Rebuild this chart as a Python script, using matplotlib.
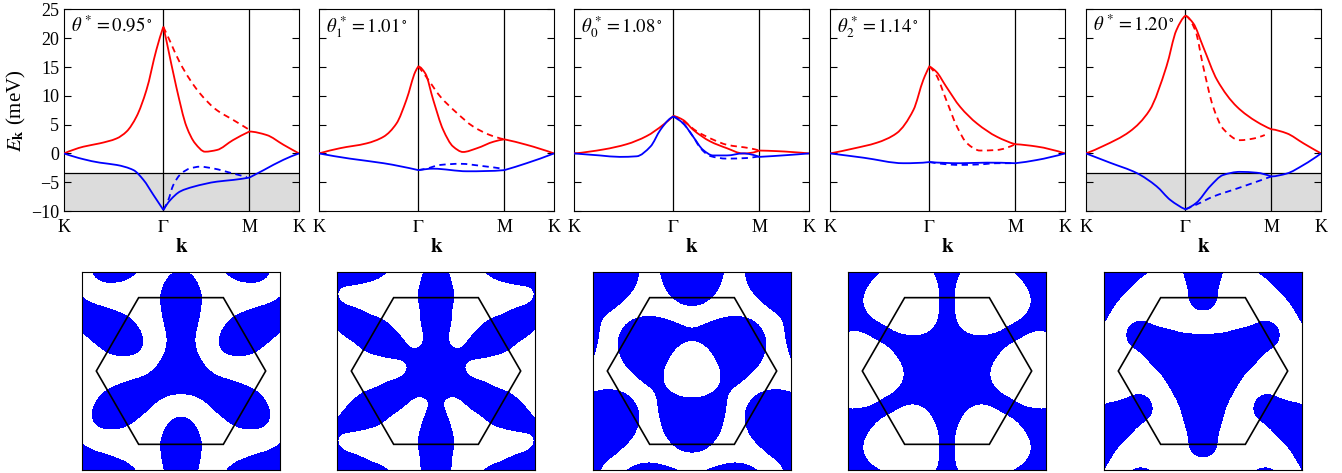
import numpy as np
import matplotlib
matplotlib.use('Agg')
import matplotlib.pyplot as plt
from matplotlib.patches import Polygon, PathPatch
from matplotlib.path import Path

plt.rcParams['font.family'] = ['Liberation Serif', 'DejaVu Serif']
plt.rcParams['mathtext.fontset'] = 'stix'

W, H = 1342, 473
# K - Gamma - M - K, path length in units of |K|
PATH = [0.0, 1.0, 1 + np.sqrt(3) / 2, 1.5 + np.sqrt(3) / 2]
A = 4 * np.pi / 3

# ---- bands: (path coordinate, energy in meV); "d" = dashed Gamma-M' branch ----
red1 = ([0, 0.195, 0.36, 0.53, 0.63, 0.73, 0.83, 0.93, 1.0, 1.03, 1.13, 1.235, 1.32, 1.42, 1.54, 1.70, 1.866, 2.04, 2.21, 2.366],
        [0, 1.17, 1.75, 2.6, 3.8, 6.4, 11.0, 18.0, 22.0, 19.7, 11.6, 4.6, 1.75, 0.3, 0.6, 2.3, 3.8, 3.2, 1.5, 0])
red1d = ([1.0, 1.07, 1.17, 1.37, 1.54, 1.705, 1.866], [22.0, 19.4, 15.65, 10.4, 7.5, 5.8, 4.1])
blue1 = ([0, 0.195, 0.36, 0.53, 0.70, 0.80, 0.90, 1.0, 1.07, 1.17, 1.30, 1.54, 1.705, 1.866, 2.01, 2.21, 2.366],
         [0, -1.0, -1.6, -2.0, -2.9, -4.6, -7.2, -9.8, -8.1, -6.6, -5.8, -4.9, -4.6, -4.2, -2.9, -1.1, 0])
blue1d = ([1.0, 1.05, 1.10, 1.18, 1.27, 1.37, 1.50, 1.705, 1.84], [-9.8, -8.1, -5.5, -3.5, -2.6, -2.3, -2.6, -3.5, -4.1])

red2 = ([0, 0.21, 0.48, 0.65, 0.78, 0.88, 0.97, 1.0, 1.07, 1.15, 1.25, 1.35, 1.45, 1.59, 1.76, 1.866, 2.09, 2.366],
        [0, 0.9, 1.75, 2.9, 5.2, 9.3, 14.2, 15.1, 13.9, 9.3, 4.1, 1.2, 0.25, 0.9, 2.05, 2.45, 1.5, 0])
red2d = ([1.0, 1.08, 1.22, 1.39, 1.55, 1.72, 1.866], [15.1, 13.3, 9.9, 7.0, 4.7, 3.2, 2.45])
blue2 = ([0, 0.31, 0.65, 1.0, 1.15, 1.49, 1.866, 2.09, 2.366], [0, -0.9, -1.7, -2.9, -2.65, -3.1, -2.9, -1.7, 0])
blue2d = ([1.0, 1.08, 1.22, 1.42, 1.65, 1.866], [-2.9, -2.65, -2.0, -1.8, -2.2, -2.7])

red3 = ([0, 0.30, 0.53, 0.73, 0.90, 1.0, 1.10, 1.20, 1.37, 1.54, 1.70, 1.866, 2.04, 2.366],
        [0, 0.7, 1.6, 3.0, 5.0, 6.5, 5.8, 4.1, 2.1, 0.9, 0.0, 0.5, 0.4, 0])
red3d = ([1.0, 1.10, 1.24, 1.40, 1.54, 1.77, 1.866], [6.5, 5.6, 3.8, 2.4, 1.5, 0.9, 0.5])
blue3 = ([0, 0.26, 0.46, 0.63, 0.77, 0.87, 0.97, 1.0, 1.10, 1.20, 1.30, 1.40, 1.54, 1.70, 1.866, 2.14, 2.366],
         [0, -0.35, -0.6, -0.5, 1.2, 4.1, 6.1, 6.4, 5.2, 2.9, 0.6, -0.35, -0.35, 0, -0.6, -0.3, 0])
blue3d = ([1.0, 1.10, 1.20, 1.27, 1.37, 1.54, 1.74, 1.866], [6.4, 5.2, 2.9, 1.0, -0.45, -0.9, -0.8, -0.5])

red4 = ([0, 0.235, 0.47, 0.67, 0.84, 0.94, 1.0, 1.07, 1.17, 1.31, 1.48, 1.68, 1.866, 2.08, 2.366],
        [0, 0.85, 1.85, 3.5, 7.55, 12.8, 15.1, 14.2, 11.6, 8.1, 5.2, 2.9, 1.6, 1.2, 0])
red4d = ([1.0, 1.07, 1.17, 1.28, 1.38, 1.51, 1.68, 1.866], [15.1, 13.6, 9.3, 4.6, 1.75, 0.5, 0.6, 1.6])
blue4 = ([0, 0.34, 0.74, 1.0, 1.31, 1.58, 1.866, 2.08, 2.366], [0, -0.75, -1.7, -1.5, -1.7, -1.6, -1.7, -1.15, 0])
blue4d = ([1.0, 1.31, 1.51, 1.68, 1.866], [-1.5, -2.0, -1.9, -1.7, -1.7])

red5 = ([0, 0.175, 0.44, 0.64, 0.81, 0.91, 1.0, 1.08, 1.18, 1.32, 1.52, 1.72, 1.866, 2.02, 2.19, 2.366],
        [0, 1.3, 3.8, 7.5, 15.1, 21.4, 23.9, 22.6, 18.5, 12.75, 8.1, 5.5, 4.2, 3.5, 1.75, 0])
red5d = ([1.0, 1.10, 1.18, 1.28, 1.38, 1.55, 1.69, 1.80], [23.9, 21.4, 15.1, 8.1, 4.3, 2.3, 2.6, 3.2])
blue5 = ([0, 0.24, 0.51, 0.71, 0.85, 1.0, 1.11, 1.25, 1.38, 1.55, 1.72, 1.866, 2.02, 2.19, 2.366],
         [0, -1.6, -3.4, -5.7, -8.1, -9.7, -8.6, -5.7, -3.75, -3.2, -3.35, -4.0, -3.5, -2.0, 0])
blue5d = ([1.0, 1.11, 1.28, 1.52, 1.72, 1.866], [-9.7, -8.9, -7.5, -6.1, -4.9, -4.0])

labels = [r'$\theta^*=0.95^\circ$', r'$\theta^*_1=1.01^\circ$', r'$\theta^*_0=1.08^\circ$',
          r'$\theta^*_2=1.14^\circ$', r'$\theta^*=1.20^\circ$']
fermi = [-3.45, None, None, None, -3.45]
bands = [(red1, red1d, blue1, blue1d), (red2, red2d, blue2, blue2d), (red3, red3d, blue3, blue3d),
         (red4, red4d, blue4, blue4d), (red5, red5d, blue5, blue5d)]

# ---- Fermi-surface maps: harmonic coefficients of the moire band (D3 symmetric) ----
# order: c0, C1, C3, S3, C4, C7, S7, C9, C12, S12, C13, S13, C16, C19, S19, C21, S21
fs1 = [-0.027, -0.467, 0.428, -0.527, -1.140, 0.202, -0.707, -0.220, 0.158, -0.109, 0.011, 0.125, 0.077, 0.040, -0.002, -0.009, 0.155]
fs2 = [-0.044, -0.771, 0.518, -0.107, -0.978, 0.381, -0.357, -0.380, 0.237, -0.077, -0.006, 0.142, -0.062, 0.183, -0.036, -0.025, 0.100]
fs3 = [-0.070, 0.149, 1.056, 0.869, 0.198, -0.057, -0.545, 0.208, -0.277, 0.149, -0.266, -0.003, -0.112, 0.059, 0.089, 0.002, 0.236]
fs4 = [0.024, -1.506, 0.550, 0.090, -0.355, 0.616, -0.027, -0.297, -0.051, -0.003, 0.126, -0.095, -0.124, -0.099, 0.060, 0.134, -0.025]
fs5 = [-0.025, -1.236, 0.447, 0.850, -0.618, 0.524, -0.056, 0.055, -0.164, -0.126, 0.091, -0.248, -0.036, -0.046, 0.099, -0.019, 0.029]
fs_maps = [fs1, fs2, fs3, fs4, fs5]


def shell_vectors(max_r2=21):
    out = {}
    for n1 in range(-7, 8):
        for n2 in range(-7, 8):
            r2 = n1 * n1 + n2 * n2 + n1 * n2
            if 0 < r2 <= max_r2:
                out.setdefault(r2, []).append((A * (n1 + n2 / 2), A * n2 * np.sqrt(3) / 2))
    return {k: np.array(v) for k, v in sorted(out.items())}


SHELLS = shell_vectors()


def basis(x, y):
    cols = [np.ones_like(x)]
    for r2, v in SHELLS.items():
        w = np.sin(3 * np.arctan2(v[:, 1], v[:, 0]))
        ph = x[..., None] * v[:, 0] + y[..., None] * v[:, 1]
        cols.append(np.cos(ph).mean(-1))
        if np.abs(w).max() > 1e-6:
            cols.append((np.sin(ph) * w).mean(-1))
    return np.stack(cols, -1)


def pchip_slopes(x, y):
    h = np.diff(x)
    d = np.diff(y) / h
    m = np.zeros_like(y)
    if len(x) == 2:
        m[:] = d[0]
        return m
    for k in range(1, len(x) - 1):
        if d[k - 1] * d[k] > 0:
            w1, w2 = 2 * h[k] + h[k - 1], h[k] + 2 * h[k - 1]
            m[k] = (w1 + w2) / (w1 / d[k - 1] + w2 / d[k])

    def end(h0, h1, d0, d1):
        e = ((2 * h0 + h1) * d0 - h0 * d1) / (h0 + h1)
        if np.sign(e) != np.sign(d0):
            return 0.0
        if np.sign(d0) != np.sign(d1) and abs(e) > abs(3 * d0):
            return 3 * d0
        return e
    m[0] = end(h[0], h[1], d[0], d[1])
    m[-1] = end(h[-1], h[-2], d[-1], d[-2])
    return m


def smooth_path(xs, ys, breaks=(PATH[1], PATH[2])):
    # monotone cubic through the read points, kinks kept at Gamma and M
    xs = np.asarray(xs, float)
    ys = np.asarray(ys, float)
    cut = [0] + [i for i, v in enumerate(xs)
                 if 0 < i < len(xs) - 1 and any(abs(v - b) < 1e-3 for b in breaks)] + [len(xs) - 1]
    verts, codes = [(xs[0], ys[0])], [Path.MOVETO]
    for a, b in zip(cut[:-1], cut[1:]):
        x, y = xs[a:b + 1], ys[a:b + 1]
        m = pchip_slopes(x, y)
        for k in range(len(x) - 1):
            h = x[k + 1] - x[k]
            verts += [(x[k] + h / 3, y[k] + m[k] * h / 3),
                      (x[k + 1] - h / 3, y[k + 1] - m[k + 1] * h / 3),
                      (x[k + 1], y[k + 1])]
            codes += [Path.CURVE4] * 3
    return Path(verts, codes)


def rect(l, t, w, h):
    return [l / W, 1 - (t + h) / H, w / W, h / H]


fig = plt.figure(figsize=(W / 100, H / 100), dpi=100)
tops = [64, 319, 574, 830, 1086]
bots = [82, 337, 593, 848, 1104]
dash = (0, (3.5, 2.5))
g = np.linspace(-1.169, 1.169, 301)
KX, KY = np.meshgrid(g, g)
BZ = basis(KX, KY)

for i in range(5):
    ax = fig.add_axes(rect(tops[i], 9.5, 235, 201.5))
    ef = fermi[i]
    if ef is not None:
        ax.axhspan(-10, ef, color='#dcdcdc', lw=0, zorder=0)
        ax.axhline(ef, color='k', lw=0.9, zorder=1)
    for xv in PATH[1:3]:
        ax.axvline(xv, color='k', lw=0.9, zorder=1)
    r, rd, b, bd = bands[i]
    for (xs, ys), col, ls in [(r, 'red', '-'), (rd, 'red', dash), (b, 'blue', '-'), (bd, 'blue', dash)]:
        ax.add_patch(PathPatch(smooth_path(xs, ys), fill=False, ec=col, lw=1.3, ls=ls, zorder=3))
    ax.set_xlim(0, PATH[-1])
    ax.set_ylim(-10, 25)
    ax.set_xticks(PATH, ['K', r'$\Gamma$', 'M', 'K'])
    ax.set_yticks(range(-10, 30, 5))
    ax.tick_params(axis='y', direction='in', right=True, length=5, labelsize=13, width=0.8)
    ax.tick_params(axis='x', length=0, labelsize=13, pad=6)
    if i > 0:
        ax.set_yticklabels([])
    else:
        ax.set_ylabel(r'$E_{\mathbf{k}}$ (meV)', fontsize=15, labelpad=2)
    ax.set_xlabel(r'$\mathbf{k}$', fontsize=15, labelpad=1)
    ax.text(0.03, 0.975, labels[i], transform=ax.transAxes, va='top', ha='left', fontsize=13.5)

    m = fig.add_axes(rect(bots[i], 272, 198, 198))
    F = BZ @ np.array(fs_maps[i])
    m.contourf(KX, KY, F, levels=[F.min() - 1, 0], colors=['#0000ff'])
    ang = np.arange(6) * np.pi / 3
    m.add_patch(Polygon(np.c_[np.cos(ang), np.sin(ang)], closed=True, fill=False, ec='k', lw=1.2))
    m.set_xlim(-1.169, 1.169)
    m.set_ylim(-1.169, 1.169)
    m.set_aspect('equal')
    m.set_xticks([])
    m.set_yticks([])

fig.savefig('out.png', dpi=100)
